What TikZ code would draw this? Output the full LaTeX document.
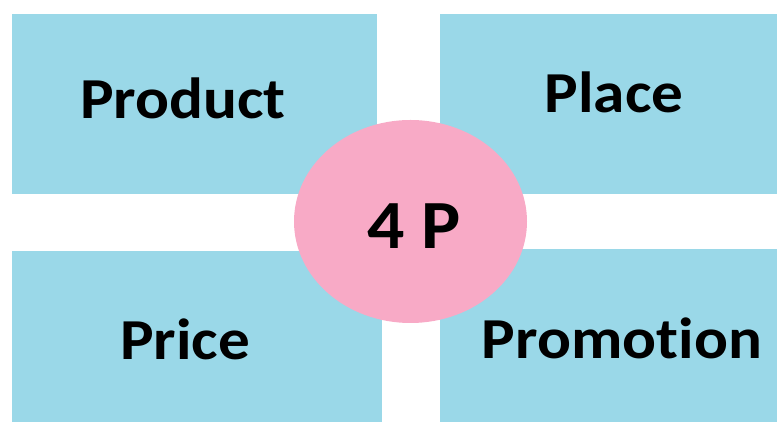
\documentclass[tikz,border=0pt]{standalone}
\usepackage{fontspec}
\setmainfont[Ligatures=NoCommon]{Carlito}
\usetikzlibrary{shapes.geometric}
\definecolor{pblue}{RGB}{154,216,232}
\definecolor{ppink}{RGB}{248,170,198}
\tikzset{
  quad/.style={fill=pblue, draw=none, inner sep=0pt, outer sep=0pt},
  label4p/.style={anchor=base, inner sep=0pt, xscale=1.09, font=\bfseries\fontsize{58}{70}\selectfont},
  hub/.style={ellipse, fill=ppink, draw=none, minimum width=233pt, minimum height=203pt, inner sep=0pt}
}
\begin{document}
\begin{tikzpicture}[x=1pt,y=1pt]
  \useasboundingbox (0,0) rectangle (777,422);
  % four quadrant boxes
  \node[quad, minimum width=365pt, minimum height=180pt] (product) at (194.5,318) {};
  \node[quad, minimum width=337pt, minimum height=180pt] (place) at (608.5,318) {};
  \node[quad, minimum width=370pt, minimum height=171pt] (price) at (197,85.5) {};
  \node[quad, minimum width=337pt, minimum height=173pt] (promotion) at (608.5,86.5) {};
  % centre
  \node[hub] (core) at (410.5,200.5) {};
  % texts
  \node[label4p] (tproduct) at (183,303) {Product};
  \node[label4p] (tplace) at (614,309) {Place};
  \node[label4p] (tprice) at (185,62) {Price};
  \node[label4p] (tpromotion) at (622,63) {Promotion};
  \node[label4p, xscale=0.98, font=\bfseries\fontsize{69}{80}\selectfont] (tcore) at (414,173) {4 P};
\end{tikzpicture}
\end{document}
